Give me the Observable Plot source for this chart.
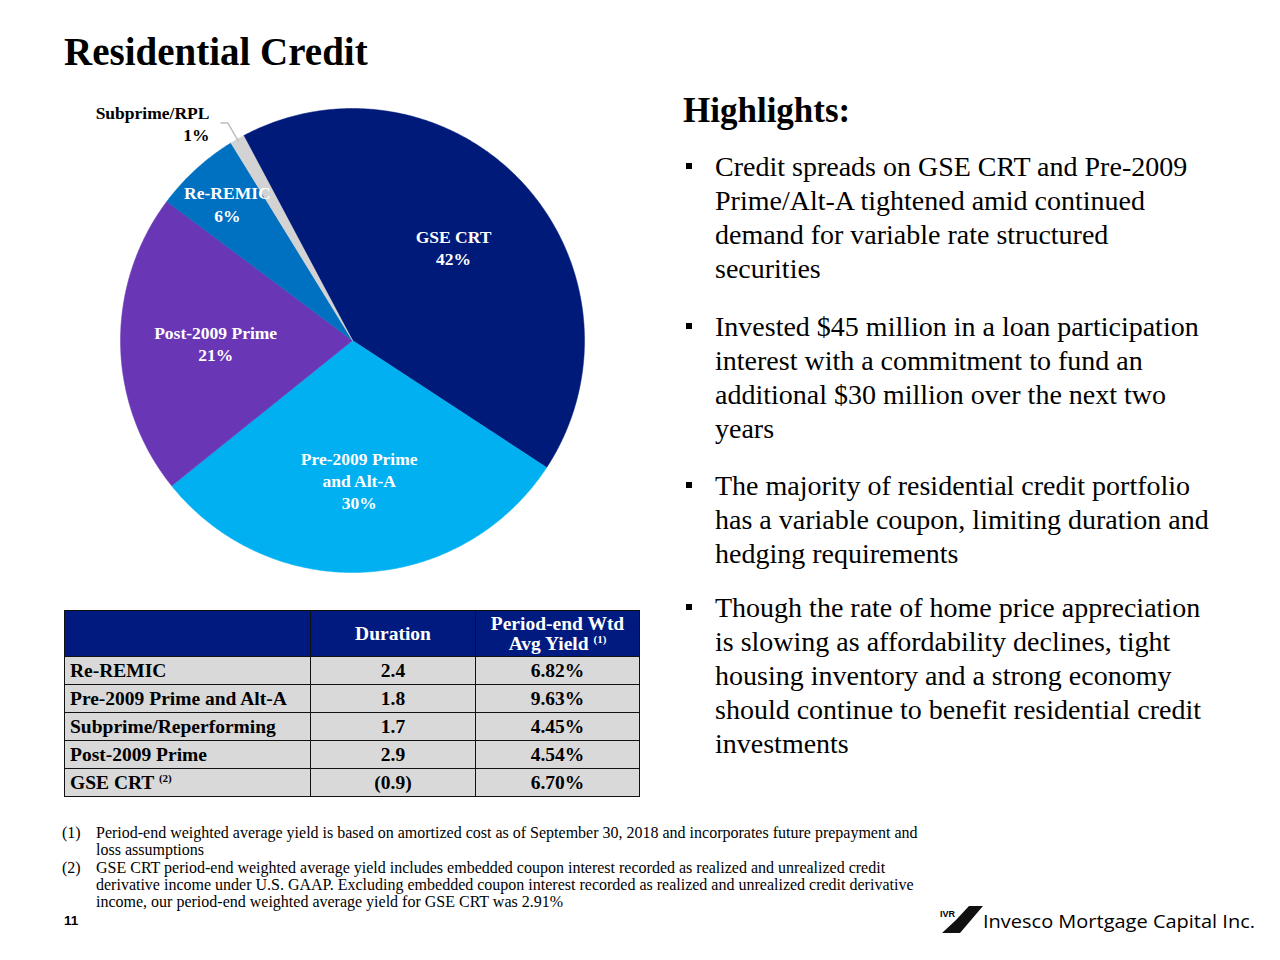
<!DOCTYPE html>
<html>
<head>
<meta charset="utf-8">
<script src="https://cdn.jsdelivr.net/npm/d3@7"></script>
<script src="https://cdn.jsdelivr.net/npm/@observablehq/plot@0.6"></script>
<style>
  html, body { margin: 0; padding: 0; background: #fff; }
  body { width: 1280px; height: 960px; position: relative; overflow: hidden; font-family: "Liberation Serif", "Times New Roman", serif; color: #000; }
  .abs { position: absolute; }
  #title { left: 64px; top: 32px; font-size: 39px; line-height: 39px; font-weight: bold; white-space: nowrap; }
  #pie { left: 62px; top: 85px; }
  #hl-title { left: 683px; top: 93px; font-size: 35px; line-height: 35px; font-weight: bold; }
  #bullets { left: 683px; top: 150px; width: 590px; font-size: 28px; line-height: 34px; }
  .bullet { position: relative; padding-left: 32px; margin-bottom: 23.5px; white-space: nowrap; }
  .bullet:nth-child(3) { margin-bottom: 20px; }
  .bullet:last-child { margin-bottom: 0; }
  .bullet::before { content: ""; position: absolute; left: 3px; top: 13px; width: 6px; height: 6px; background: #000; }
  #tbl { left: 64px; top: 610px; border-collapse: collapse; font-weight: bold; font-size: 19.5px; }
  #tbl td, #tbl th { border: 1.5px solid #111; padding: 0 5px; }
  #tbl th { background: #001A7F; color: #fff; height: 45px; line-height: 20px; font-weight: bold; }
  #tbl td { background: #D9D9D9; height: 27px; line-height: 20px; }
  #tbl td.num { text-align: center; }
  sup { font-size: 11px; line-height: 0; vertical-align: 7px; }
  #notes { left: 62px; top: 824px; width: 900px; font-size: 16px; line-height: 17.3px; white-space: nowrap; }
  .note { position: relative; padding-left: 34px; }
  .note span.n { position: absolute; left: 0; }
  #pageno { left: 64px; top: 914px; font-family: "Liberation Sans", Arial, sans-serif; font-weight: bold; font-size: 13.5px; line-height: 14px; }
  #logo { left: 940px; top: 905px; }
  #logotext { left: 983px; top: 907px; font-family: "Open Sans", "Liberation Sans", sans-serif; font-size: 19px; line-height: 28px; white-space: nowrap; transform-origin: 0 0; }
</style>
</head>
<body>
<div id="title" class="abs">Residential Credit</div>
<div id="pie" class="abs"></div>
<div id="hl-title" class="abs">Highlights:</div>
<div id="bullets" class="abs"></div>
<table id="tbl" class="abs"></table>
<div id="notes" class="abs"></div>
<div id="pageno" class="abs">11</div>
<svg id="logo" class="abs" width="46" height="32" viewBox="0 0 46 32">
  <text x="0" y="12" font-family="Liberation Sans, Arial, sans-serif" font-weight="bold" font-size="9">IVR</text>
  <polygon points="29,1 43,1 20,28 2,28 16,15" fill="#111"/>
</svg>
<div id="logotext" class="abs">Invesco Mortgage Capital Inc.</div>

<script>
// ---------------- Data ----------------
const sliceNames  = ["GSE CRT", "Pre-2009 Prime and Alt-A", "Post-2009 Prime", "Re-REMIC", "Subprime/RPL"];
const sliceLabels = ["GSE CRT", "Pre-2009 Prime\nand Alt-A", "Post-2009 Prime", "Re-REMIC", "Subprime/RPL"];
const sliceShares = [42, 30, 21, 6, 1];
const sliceColors = ["#001A7A", "#00B0F0", "#6937B5", "#0070C0", "#D3D3D3"];
const firstSliceAngle = 332; // degrees clockwise from 12 o'clock

const tableHeaders = ["", "Duration", "Period-end Wtd<br>Avg Yield <sup>(1)</sup>"];
const tableRows    = ["Re-REMIC", "Pre-2009 Prime and Alt-A", "Subprime/Reperforming", "Post-2009 Prime", "GSE CRT <sup>(2)</sup>"];
const durations    = ["2.4", "1.8", "1.7", "2.9", "(0.9)"];
const yields       = ["6.82%", "9.63%", "4.45%", "4.54%", "6.70%"];

const highlights = [
  ["Credit spreads on GSE CRT and Pre-2009", "Prime/Alt-A tightened amid continued", "demand for variable rate structured", "securities"],
  ["Invested $45 million in a loan participation", "interest with a commitment to fund an", "additional $30 million over the next two", "years"],
  ["The majority of residential credit portfolio", "has a variable coupon, limiting duration and", "hedging requirements"],
  ["Though the rate of home price appreciation", "is slowing as affordability declines, tight", "housing inventory and a strong economy", "should continue to benefit residential credit", "investments"]
];

const footnotes = [
  ["(1)", "Period-end weighted average yield is based on amortized cost as of September 30, 2018 and incorporates future prepayment and<br>loss assumptions"],
  ["(2)", "GSE CRT period-end weighted average yield includes embedded coupon interest recorded as realized and unrealized credit<br>derivative income under U.S. GAAP. Excluding embedded coupon interest recorded as realized and unrealized credit derivative<br>income, our period-end weighted average yield for GSE CRT was 2.91%"]
];

// ---------------- Pie geometry (unit radius) ----------------
const total = d3.sum(sliceShares);
const toRad = Math.PI / 180;
const polyPts = [];
const insideLabels = [];
const outsideLabels = [];
const leader = [];
let a = firstSliceAngle * toRad;
sliceShares.forEach((v, i) => {
  const a0 = a, a1 = a + v / total * 2 * Math.PI;
  const steps = Math.max(2, Math.ceil((a1 - a0) / (0.5 * toRad)));
  polyPts.push({name: sliceNames[i], x: 0, y: 0});
  for (let k = 0; k <= steps; k++) {
    const t = a0 + (a1 - a0) * k / steps;
    polyPts.push({name: sliceNames[i], x: Math.sin(t), y: Math.cos(t)});
  }
  polyPts.push({name: sliceNames[i], x: 0, y: 0});
  const mid = (a0 + a1) / 2;
  const frac = v / total;
  const text = sliceLabels[i] + "\n" + v + "%";
  if (frac >= 0.1) {
    insideLabels.push({x: 0.59 * Math.sin(mid), y: 0.6 * Math.cos(mid), text});
  } else if (frac >= 0.03) {
    insideLabels.push({x: 0.8 * Math.sin(mid), y: 0.8 * Math.cos(mid), text});
  } else {
    const ex = 1.08 * Math.sin(mid), ey = 1.08 * Math.cos(mid);
    leader.push({x: 0.99 * Math.sin(mid), y: 0.99 * Math.cos(mid)}, {x: ex, y: ey}, {x: ex - 0.03, y: ey});
    outsideLabels.push({x: ex - 0.08, y: ey, text});
  }
  a = a1;
});

const W = 580, H = 510, R = 232;
const pie = Plot.plot({
  width: W, height: H,
  margin: 0,
  x: {domain: [-W / 2 / R, W / 2 / R], axis: null},
  y: {domain: [-H / 2 / R, H / 2 / R], axis: null},
  color: {domain: sliceNames, range: sliceColors},
  style: {background: "transparent", overflow: "visible"},
  marks: [
    Plot.line(polyPts, {x: "x", y: "y", z: "name", fill: "name", stroke: "name", strokeWidth: 0.5}),
    Plot.line(leader, {x: "x", y: "y", stroke: "#BFBFBF", strokeWidth: 1.5}),
    Plot.text(insideLabels, {x: "x", y: "y", text: "text", fill: "white", fontSize: 17.5, fontWeight: "bold", fontFamily: "Liberation Serif", lineHeight: 1.26}),
    Plot.text(outsideLabels, {x: "x", y: "y", text: "text", fill: "black", textAnchor: "end", fontSize: 17.5, fontWeight: "bold", fontFamily: "Liberation Serif", lineHeight: 1.26})
  ]
});
document.getElementById("pie").appendChild(pie);

// ---------------- Highlights ----------------
document.getElementById("bullets").innerHTML = highlights
  .map(lines => `<div class="bullet">${lines.join("<br>")}</div>`).join("");

// ---------------- Table ----------------
const colW = [246, 165, 164];
let html = "<tr>" + tableHeaders.map((h, j) => `<th style="width:${colW[j] - 11}px">${h}</th>`).join("") + "</tr>";
tableRows.forEach((r, i) => {
  html += `<tr><td>${r}</td><td class="num">${durations[i]}</td><td class="num">${yields[i]}</td></tr>`;
});
document.getElementById("tbl").innerHTML = html;

// ---------------- Footnotes ----------------
document.getElementById("notes").innerHTML = footnotes
  .map(([n, t]) => `<div class="note"><span class="n">${n}</span>${t}</div>`).join("");

// ---------------- Logo text width fit ----------------
const lt = document.getElementById("logotext");
const w = lt.getBoundingClientRect().width;
lt.style.transform = `scaleX(${272 / w})`;
</script>
</body>
</html>
